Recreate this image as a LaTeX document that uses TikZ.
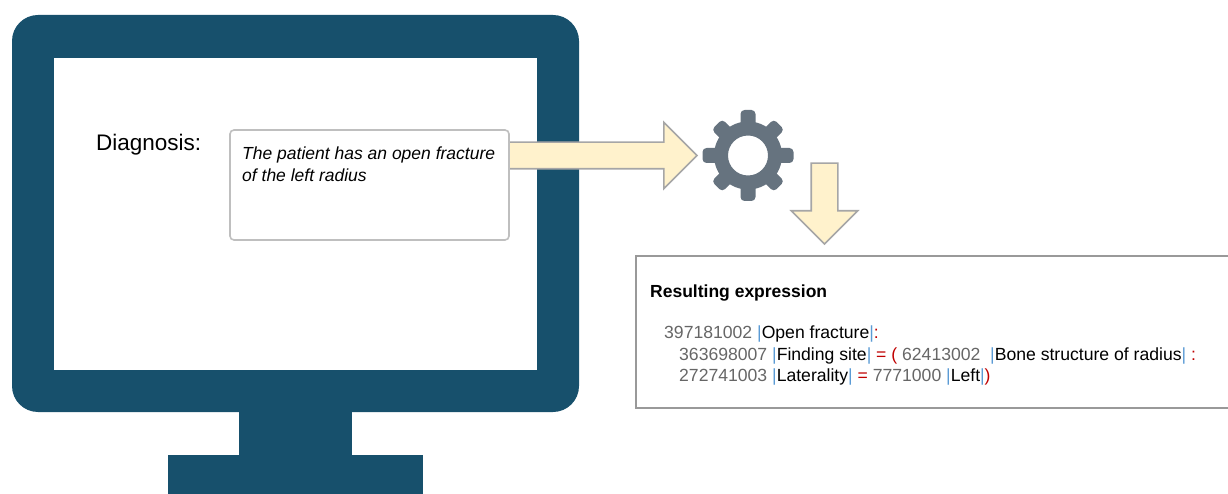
\documentclass[tikz,border=0pt]{standalone}
\usepackage{fontspec}
\setmainfont{Liberation Sans}
\usetikzlibrary{shapes.arrows}
\definecolor{screenblue}{HTML}{17506C}
\definecolor{gearslate}{HTML}{66737F}
\definecolor{arrowcream}{HTML}{FFF2CC}
\definecolor{codegray}{HTML}{666666}
\definecolor{codeblue}{HTML}{5B9BD5}
\definecolor{codered}{HTML}{C00000}
\newcommand{\sctid}[1]{\textcolor{codegray}{#1}}
\newcommand{\pipe}{\textcolor{codeblue}{|}}
\newcommand{\opr}[1]{\textcolor{codered}{#1}}
\tikzset{
	blockarrow/.style={single arrow,draw=black!35,line width=1.6pt,fill=arrowcream,inner sep=0pt,outer sep=0pt,text height=25pt,text depth=0pt,text width=#1,single arrow head extend=20pt},
	codeline/.style={anchor=base west,inner sep=0pt,font=\fontsize{17.6}{21}\selectfont},
}
\begin{document}
\begin{tikzpicture}[x=1pt,y=-1pt]
			\useasboundingbox (0,0) rectangle (1228,494);
			\coordinate (gearhub) at (748,155.5);
			\fill[screenblue,rounded corners=26pt] (12,15) rectangle (579,412);
			\fill[white] (54,58) rectangle (537,370);
			\fill[screenblue] (239,410) rectangle (352,456);
			\fill[screenblue] (168,455) rectangle (423,494);
			\node[blockarrow=174pt] (toengine) at (596,155.5) {};
			\node[draw=black!25,line width=1.6pt,fill=white,rounded corners=4pt,minimum width=279pt,minimum height=110pt,inner sep=0pt] (note) at (369.5,185) {};
			\node[anchor=base west,inner sep=0pt,font=\fontsize{22.5}{26}\selectfont] (diagnosis) at (96,151) {Diagnosis:};
			\node[anchor=north west,inner sep=0pt,align=left,font=\fontsize{17.5}{22}\selectfont\itshape] (notetext) at (242,147) {The patient has an open fracture\\of the left radius};
			\fill[gearslate,even odd rule] (gearhub) circle (34) (gearhub) circle (20);
			\foreach \a in {0,90,180,270}
				\fill[gearslate,rounded corners=4pt,rotate around={\a:(gearhub)}] ([shift={(25,-7.5)}]gearhub) rectangle ([shift={(45.5,7.5)}]gearhub);
			\foreach \a in {45,135,225,315}
				\fill[gearslate,rounded corners=4pt,rotate around={\a:(gearhub)}] ([shift={(25,-7.5)}]gearhub) rectangle ([shift={(44,7.5)}]gearhub);
			\node[blockarrow=66pt,rotate=-90] (toresult) at (824.5,197) {};
			\draw[draw=black!40,line width=2pt] (1228,256) -- (636,256) -- (636,408) -- (1228,408);
			\node[codeline,font=\fontsize{17.5}{21}\selectfont\bfseries] (heading) at (650,297) {Resulting expression};
			\node[codeline] (conceptline) at (664,338.5) {\sctid{397181002\ }\pipe Open fracture\pipe\opr{:}};
			\node[codeline] (siteline) at (679,360) {\sctid{363698007\ }\pipe Finding site\pipe\opr{\ =\ (\ }\sctid{62413002\ \ }\pipe Bone structure of radius\pipe\opr{\ :}};
			\node[codeline] (sideline) at (679,381) {\sctid{272741003\ }\pipe Laterality\pipe\opr{\ =\ }\sctid{7771000\ }\pipe Left\pipe\opr{)}};
		\end{tikzpicture}
\end{document}
